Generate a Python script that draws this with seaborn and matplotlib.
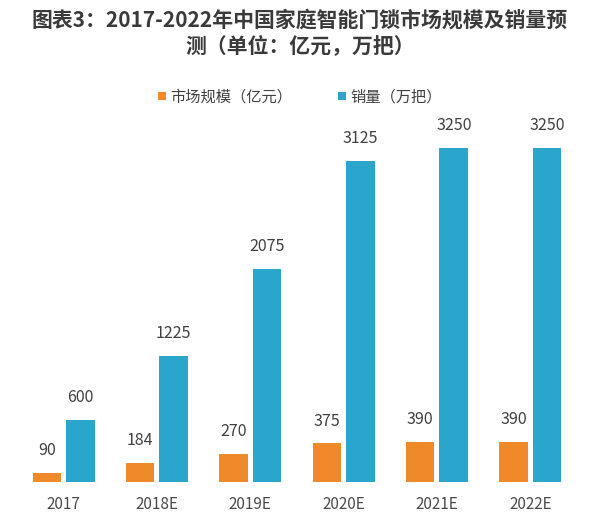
import numpy as np
import pandas as pd
import matplotlib
matplotlib.use("Agg")
import matplotlib.pyplot as plt
import seaborn as sns

# chart data
years = ["2017", "2018E", "2019E", "2020E", "2021E", "2022E"]
market_size = [90, 184, 270, 375, 390, 390]      # 亿元
sales_volume = [600, 1225, 2075, 3125, 3250, 3250]  # 万把
series_names = ["市场规模（亿元）", "销量（万把）"]

df = pd.DataFrame({
    "year": years * 2,
    "value": market_size + sales_volume,
    "series": [series_names[0]] * len(years) + [series_names[1]] * len(years),
})

sns.set_style("white")
plt.rcParams["font.family"] = ["Noto Sans CJK SC", "DejaVu Sans"]

fig = plt.figure(figsize=(6, 5.23), dpi=100)
ax = fig.add_axes([0.0283, 0.0784, 0.9333, 0.7017])

sns.barplot(data=df, x="year", y="value", hue="series",
            palette=["#EF8A2B", "#2AA5CB"], saturation=1,
            width=0.72, gap=0.15, linewidth=0, edgecolor="none",
            ax=ax, legend=True)

for cont in ax.containers:
    ax.bar_label(cont, fmt="%d", padding=10, fontsize=11.5, color="#404040")

ax.set_ylim(0, 3571)
ax.set_xlim(-0.5, 5.5)
ax.set_xlabel("")
ax.set_ylabel("")
ax.set_yticks([])
ax.tick_params(axis="x", length=0, labelsize=11, labelcolor="#4a4a4a", pad=10)
for s in ax.spines.values():
    s.set_visible(False)

handles, labels = ax.get_legend_handles_labels()
ax.legend(handles, labels, loc="center", bbox_to_anchor=(0.5, (523 - 97) / 523),
          bbox_transform=fig.transFigure, ncol=2, frameon=False,
          fontsize=11, handlelength=0.5, handleheight=0.5, handletextpad=0.3,
          columnspacing=3.0, labelcolor="#404040")

fig.text(0.5, (523 - 20) / 523, "图表3：2017-2022年中国家庭智能门锁市场规模及销量预",
         ha="center", va="center", fontsize=15, fontweight="bold", color="#3a3a3a")
fig.text(0.5, (523 - 46) / 523, "测（单位：亿元，万把）",
         ha="center", va="center", fontsize=15, fontweight="bold", color="#3a3a3a")

fig.savefig("out.png", dpi=100)
